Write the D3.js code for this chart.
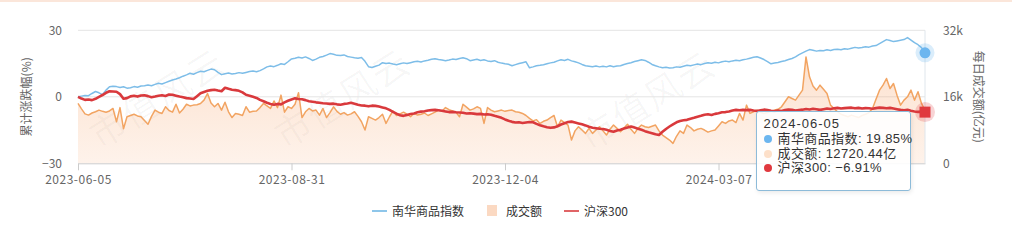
<!DOCTYPE html>
<html>
<head>
<meta charset="utf-8">
<script src="https://cdn.jsdelivr.net/npm/d3@7"></script>
<style>
  html, body { margin: 0; padding: 0; background: #fff; }
  #wrap { position: relative; width: 1012px; height: 243px; }
  svg { display: block; font-family: "Noto Sans CJK SC", "Noto Sans", sans-serif; }
  .tip { position: absolute; box-sizing: border-box; background: rgba(255,255,255,0.88);
    border: 1px solid #8dbbd9; border-radius: 3px; box-shadow: 1px 2px 4px rgba(0,0,0,0.08);
    font-family: "Liberation Sans", "Noto Sans CJK SC", sans-serif; color: #333; font-size: 13px;
    padding: 4px 0 0 7px; white-space: nowrap; }
  .tip .head { height: 16.5px; line-height: 16.5px; letter-spacing: 1px; }
  .tip .row { position: relative; height: 14.5px; line-height: 14.5px; padding-left: 14px; letter-spacing: 0.4px; }
  .tip .dot { position: absolute; left: 0; top: 3.25px; width: 8px; height: 8px; border-radius: 50%; }
</style>
</head>
<body>
<div id="wrap"><svg id="chart" width="1012" height="243"></svg></div>
<script>
"use strict";

// trading calendar: weekdays minus exchange holidays
const startDay = "2023-06-05";
const pointCount = 243;
const holidays = ["2023-06-22", "2023-06-23", "2023-09-29", "2023-10-02", "2023-10-03", "2023-10-04",
  "2023-10-05", "2023-10-06", "2024-01-01", "2024-02-09", "2024-02-12", "2024-02-13", "2024-02-14",
  "2024-02-15", "2024-02-16", "2024-04-04", "2024-04-05", "2024-05-01", "2024-05-02", "2024-05-03"];
const tickDates = ["2023-06-05", "2023-08-31", "2023-12-04", "2024-03-07"];

// 南华商品指数 cumulative change (%)
const nanhua = [
  0, 0.3, 0.6, 0.5, 1.5, 2.4, 1.8, 1.0, 3.0, 4.5,
  4.8, 4.6, 4.2, 4.5, 3.9, 4.1, 4.6, 4.3, 4.9, 5.0,
  5.3, 5.0, 5.6, 6.1, 5.8, 6.4, 7.0, 7.6, 8.0, 8.6,
  9.3, 9.9, 10.6, 10.2, 10.9, 11.5, 11.3, 11.9, 12.5, 12.2,
  11.0, 10.0, 10.4, 10.7, 10.3, 10.5, 10.9, 10.6, 11.0, 11.4,
  11.6, 11.3, 11.8, 12.6, 13.5, 13.9, 13.6, 14.2, 14.9, 14.6,
  15.8, 17.1, 17.4, 17.8, 17.5, 18.0, 17.3, 16.4, 17.0, 17.8,
  18.2, 18.8, 19.5, 19.2, 18.7, 18.6, 18.9, 18.2, 17.9, 17.6,
  17.4, 17.7, 16.0, 13.6, 13.2, 13.8, 14.3, 15.4, 15.0, 15.2,
  14.8, 14.5, 14.9, 15.3, 15.0, 15.4, 15.8, 16.0, 15.7, 16.2,
  16.5, 16.9, 17.2, 16.8, 16.6, 16.3, 16.6, 17.0, 16.8, 17.3,
  17.6, 17.2, 16.3, 16.6, 16.9, 16.4, 16.7, 16.2, 15.9, 16.3,
  15.6, 15.2, 14.9, 14.7, 14.0, 14.5, 15.0, 15.4, 15.8, 13.1,
  13.5, 14.0, 14.2, 14.5, 14.9, 15.3, 15.6, 16.2, 16.7, 16.4,
  16.9, 16.2, 15.8, 15.3, 14.6, 14.0, 13.8, 13.6, 13.9, 13.5,
  13.8, 13.5, 14.0, 13.6, 13.9, 14.0, 14.6, 15.0, 15.4, 15.9,
  16.3, 16.7, 16.4, 15.6, 14.6, 14.0, 13.5, 13.1, 13.3, 13.0,
  13.1, 13.5, 13.3, 13.8, 14.2, 14.0, 14.4, 14.8, 14.5, 15.0,
  15.4, 15.1, 15.6, 15.3, 15.8, 16.1, 15.8, 16.2, 16.5, 16.3,
  16.7, 17.0, 17.4, 17.8, 18.1, 17.5, 16.8, 15.9, 14.9, 15.2,
  15.5, 15.9, 16.3, 16.8, 17.3, 18.0, 19.0, 19.8, 20.6, 21.3,
  21.0, 20.6, 20.9, 20.8, 21.2, 20.9, 21.3, 21.5, 21.2, 21.7,
  21.5, 21.9, 22.3, 22.0, 22.2, 22.6, 22.4, 22.9, 23.1, 24.0,
  24.9, 25.8, 25.4, 24.9, 25.2, 25.5, 25.8, 26.7, 25.6, 24.4,
  23.5, 22.2, 19.85
];

// 沪深300 cumulative change (%)
const hs300 = [
  0, -0.8, -1.4, -1.2, -1.5, -0.9, 0, 0.8, 1.8, 2.5,
  2.4, 2.3, 1.2, -0.9, -0.6, 0.2, 0.5, 0.1, 0.6, 0.7,
  0.3, -0.2, 0.1, 0.5, 0.7, 0.4, 1.0, 0.9, 0.5, 0.1,
  -0.2, -0.6, -0.8, -1.0, 0.3, 1.6, 2.2, 2.7, 3.0, 3.2,
  2.8, 2.5, 4.1, 3.6, 3.2, 3.0, 2.7, 2.0, 0.9, 0.5,
  0, -0.5, -1.4, -2.0, -2.7, -3.2, -3.6, -3.2, -3.4, -2.5,
  -1.8, -1.2, -0.7, -1.0, -1.1, -1.5, -2.0, -2.2, -2.5, -2.7,
  -2.9, -3.0, -3.2, -3.1, -3.4, -3.6, -3.2, -3.0, -2.7, -3.1,
  -3.6, -3.9, -4.0, -4.3, -4.0, -4.1, -4.4, -4.8, -5.2, -5.9,
  -6.8, -7.6, -8.3, -8.6, -8.2, -7.8, -7.5, -7.0, -6.7, -6.5,
  -6.2, -6.0, -5.9, -6.1, -6.3, -6.6, -6.9, -6.8, -7.0, -7.1,
  -7.2, -7.5, -7.4, -7.6, -7.8, -7.7, -8.0, -7.9, -8.1, -8.6,
  -9.0, -9.5, -10.2, -10.8, -11.3, -11.6, -11.5, -11.8, -11.6, -11.4,
  -11.5, -12.2, -12.8, -13.3, -13.7, -14.0, -13.8, -13.3, -12.5, -11.9,
  -11.4, -11.2, -11.6, -12.0, -12.4, -12.9, -13.5, -14.0, -14.2, -14.4,
  -14.5, -14.9, -15.4, -15.8, -15.2, -14.9, -14.3, -13.8, -13.4, -13.9,
  -14.4, -14.9, -15.5, -16.0, -16.4, -16.9, -17.2, -15.8, -14.5, -13.4,
  -12.4, -11.5, -10.9, -10.6, -10.4, -9.9, -9.5, -9.0, -8.6, -8.1,
  -7.9, -8.2, -7.7, -7.4, -7.0, -6.9, -6.6, -6.2, -5.9, -6.1,
  -5.9, -6.0, -5.9, -6.2, -6.4, -6.1, -5.8, -6.0, -6.3, -6.5,
  -6.2, -6.4, -6.0, -5.7, -5.9, -6.2, -6.0, -5.8, -5.5, -5.7,
  -5.4, -5.6, -5.9, -5.6, -5.3, -5.5, -5.2, -5.0, -5.3, -5.1,
  -5.0, -4.9, -5.2, -5.0, -5.3, -5.1, -5.2, -5.4, -5.1, -4.9,
  -5.0, -5.2, -5.0, -5.3, -5.6, -5.9, -6.1, -5.9, -6.3, -6.6,
  -6.8, -6.7, -6.91
];

// 成交额 daily turnover (亿元)
const volume = [
  14400, 13100, 11900, 11600, 12100, 12400, 12800, 12500, 12300, 12600,
  13200, 10000, 13400, 8300, 11200, 11500, 11800, 11400, 11200, 10300,
  9400, 11300, 12800, 12300, 12000, 13600, 12700, 12300, 14200, 12100,
  13000, 14200, 13800, 14000, 14100, 14400, 15200, 16800, 14500, 13600,
  14400, 12800, 14700, 12400, 11000, 12000, 11800, 11500, 13600, 12300,
  12500, 12600, 13400, 14400, 13800, 13200, 15000, 13400, 16400, 12300,
  13600, 13200, 14200, 17000, 11000, 12400, 13200, 12600, 12800, 11600,
  13200, 11000, 12200, 13600, 12500, 11800, 12200, 11600, 11900, 12400,
  11300, 10000, 8000, 11200, 10800, 10400, 11000, 11800, 9600, 11200,
  12600, 11500, 11900, 12300, 11800, 11200, 12000, 11600, 11800, 12100,
  11500, 11900, 12300, 12800, 12500, 13400, 12900, 12600, 12300, 11200,
  14200, 13500, 12800, 13100, 13600, 13200, 9600, 13400, 12800, 12400,
  12600, 12800, 12500, 12700, 12800, 12400, 12300, 12000, 11500, 10800,
  10200, 10500, 9600, 10100, 10400, 11000, 11500, 8800, 10400, 9800,
  9200, 5600, 7800, 8800, 8000, 7200, 8400, 7200, 8000, 8800,
  7800, 6800, 8200, 9200, 8400, 7600, 8500, 9400, 8200, 7200,
  8400, 9200, 8800, 8600, 8900, 9200, 7800, 6800, 6200, 5600,
  4800, 6500, 7800, 7200, 9200, 8600, 7800, 8200, 8400, 8000,
  7500, 7800, 8000, 9000, 10000, 9600, 10200, 10400, 9800, 12000,
  10400, 14000, 12000, 12400, 12800, 12300, 12000, 12200, 12500, 12800,
  13000, 13600, 14800, 16000, 15600, 15200, 16400, 17600, 25600, 20800,
  18600, 17600, 18800, 17800, 16800, 14000, 13200, 12400, 11800, 11500,
  11200, 11600, 11300, 11000, 11500, 11800, 12200, 13200, 15400, 17600,
  18800, 20400, 18000, 19200, 16400, 14000, 15200, 16000, 17600, 15200,
  17200, 14400, 12720.44
];

const leftTicks = [-30, 0, 30];
const rightTicks = [0, 16000, 32000];
const seriesNames = ["南华商品指数", "成交额", "沪深300"];
const watermark = "市值风云";

// build trading dates
function tradingDays(start, n) {
  const fmt = d3.utcFormat("%Y-%m-%d");
  const out = [];
  let d = new Date(start + "T00:00:00Z");
  while (out.length < n) {
    const s = fmt(d), wd = d.getUTCDay();
    if (wd !== 0 && wd !== 6 && holidays.indexOf(s) < 0) out.push(s);
    d = d3.utcDay.offset(d, 1);
  }
  return out;
}
const dates = tradingDays(startDay, pointCount);

const svg = d3.select("#chart");
const W = 1012, H = 243;
const mLeft = 78, mRight = 925, mTop = 30.3, mBottom = 163.3;

const blue = "#7dbde8", red = "#d9393c", orange = "#f2a462";

// top border strip
svg.append("rect").attr("x", 0).attr("y", 0).attr("width", W).attr("height", 2).attr("fill", "#fbe6da");

// faint watermark, kept clear of the labels
const wm = svg.append("g").attr("fill", "#000").attr("fill-opacity", 0.035)
  .attr("font-size", 36).attr("letter-spacing", 2);
[[285, 150], [590, 152], [100, 150]].forEach(function(p) {
  wm.append("text").attr("transform", "translate(" + p[0] + "," + p[1] + ") rotate(-32)").text(watermark);
});

const x = d3.scalePoint().domain(dates).range([mLeft, mRight]);
const yL = d3.scaleLinear().domain([-30, 30]).range([mBottom, mTop]);
const yR = d3.scaleLinear().domain([0, 32000]).range([mBottom, mTop]);

// gridlines
svg.append("g").selectAll("line").data(leftTicks.filter(function(t) { return t > -30; })).enter().append("line")
  .attr("x1", mLeft).attr("x2", mRight)
  .attr("y1", function(d) { return yL(d); }).attr("y2", function(d) { return yL(d); })
  .attr("stroke", "#e4e4e4").attr("stroke-width", 1);

// gradient for turnover area
const defs = svg.append("defs");
const grad = defs.append("linearGradient").attr("id", "volFill")
  .attr("gradientUnits", "userSpaceOnUse").attr("x1", 0).attr("y1", mTop).attr("x2", 0).attr("y2", mBottom);
grad.append("stop").attr("offset", "0%").attr("stop-color", "#f7a66e").attr("stop-opacity", 0.38);
grad.append("stop").attr("offset", "100%").attr("stop-color", "#f7a66e").attr("stop-opacity", 0.14);

const volArea = d3.area().x(function(d, i) { return x(dates[i]); }).y0(mBottom).y1(function(d) { return yR(d); });
const volLine = d3.line().x(function(d, i) { return x(dates[i]); }).y(function(d) { return yR(d); });
const pctLine = d3.line().x(function(d, i) { return x(dates[i]); }).y(function(d) { return yL(d); });

svg.append("path").datum(volume).attr("d", volArea).attr("fill", "url(#volFill)");
svg.append("path").datum(volume).attr("d", volLine).attr("fill", "none").attr("stroke", orange)
  .attr("stroke-width", 1.5).attr("stroke-linejoin", "round");
svg.append("path").datum(nanhua).attr("d", pctLine).attr("fill", "none").attr("stroke", blue)
  .attr("stroke-width", 1.5).attr("stroke-linejoin", "round");
svg.append("path").datum(hs300).attr("d", pctLine).attr("fill", "none").attr("stroke", red)
  .attr("stroke-width", 2.6).attr("stroke-linejoin", "round");

// x axis
const xAxis = svg.append("g").attr("transform", "translate(0," + mBottom + ")")
  .call(d3.axisBottom(x).tickValues(tickDates).tickSize(7).tickSizeOuter(0).tickPadding(5));
xAxis.select(".domain").attr("stroke", "#ccc");
xAxis.selectAll(".tick line").attr("stroke", "#ccc");
xAxis.selectAll("text").attr("fill", "#666").attr("font-size", 12).attr("letter-spacing", 0.5)
  .attr("font-family", "\"Noto Sans CJK SC\", sans-serif");

// left axis
const yAxisL = svg.append("g").attr("transform", "translate(" + mLeft + ",0)")
  .call(d3.axisLeft(yL).tickValues(leftTicks).tickSize(0).tickPadding(16));
yAxisL.select(".domain").remove();
yAxisL.selectAll("text").attr("fill", "#666").attr("font-size", 12)
  .attr("font-family", "\"Noto Sans CJK SC\", sans-serif");

// right axis
const yAxisR = svg.append("g").attr("transform", "translate(" + mRight + ",0)")
  .call(d3.axisRight(yR).tickValues(rightTicks).tickSize(0).tickPadding(18).tickFormat(d3.format("~s")));
yAxisR.select(".domain").remove();
yAxisR.selectAll("text").attr("fill", "#666").attr("font-size", 12)
  .attr("font-family", "\"Noto Sans CJK SC\", sans-serif");

// axis titles
svg.append("text").attr("transform", "translate(31," + ((mTop + mBottom) / 2) + ") rotate(-90)")
  .attr("text-anchor", "middle").attr("fill", "#666").attr("font-size", 12).text("累计涨跌幅(%)");
svg.append("text").attr("transform", "translate(974," + ((mTop + mBottom) / 2) + ") rotate(90)")
  .attr("text-anchor", "middle").attr("fill", "#666").attr("font-size", 12).text("每日成交额(亿元)");

// axis pointer at last point
const last = pointCount - 1;
const px = x(dates[last]);
svg.append("line").attr("x1", px).attr("x2", px).attr("y1", mTop).attr("y2", mBottom)
  .attr("stroke", "#dfe6ec").attr("stroke-width", 1);

svg.append("circle").attr("cx", px).attr("cy", yL(nanhua[last])).attr("r", 9.5)
  .attr("fill", "#6cb6ef").attr("fill-opacity", 0.25);
svg.append("circle").attr("cx", px).attr("cy", yL(nanhua[last])).attr("r", 5.5)
  .attr("fill", "#6cb6ef");
svg.append("circle").attr("cx", px).attr("cy", yL(hs300[last])).attr("r", 10)
  .attr("fill", "#e0393e").attr("fill-opacity", 0.22);
svg.append("rect").attr("x", px - 5.5).attr("y", yL(hs300[last]) - 5.5).attr("width", 11).attr("height", 11)
  .attr("fill", "#e0393e");

// legend
const legend = svg.append("g").attr("font-size", 12).attr("fill", "#333");
legend.append("line").attr("x1", 372).attr("x2", 387).attr("y1", 211).attr("y2", 211)
  .attr("stroke", "#8ec6ea").attr("stroke-width", 2);
legend.append("text").attr("x", 392).attr("y", 215.5).text(seriesNames[0]);
legend.append("rect").attr("x", 487).attr("y", 205).attr("width", 10).attr("height", 11).attr("fill", "#fbd9c2");
legend.append("text").attr("x", 506).attr("y", 215.5).text(seriesNames[1]);
legend.append("line").attr("x1", 564).attr("x2", 579).attr("y1", 211).attr("y2", 211)
  .attr("stroke", "#e06466").attr("stroke-width", 2);
legend.append("text").attr("x", 584).attr("y", 215.5).text(seriesNames[2]);

// tooltip (html box like the charting lib's)
const tip = d3.select("#wrap").append("div").attr("class", "tip")
  .style("left", "755.5px").style("top", "110.5px").style("width", "155px").style("height", "80px");
tip.append("div").attr("class", "head").text(dates[last]);
const tipRows = [
  {color: "#6cb6ef", label: seriesNames[0] + ": " + d3.format(".2f")(nanhua[last]) + "%"},
  {color: "#fde0c9", label: seriesNames[1] + ": " + d3.format(".2f")(volume[last]) + "亿"},
  {color: "#e0393e", label: seriesNames[2] + ": " + d3.format(".2f")(hs300[last]) + "%"}
];
tipRows.forEach(function(r) {
  const row = tip.append("div").attr("class", "row");
  row.append("span").attr("class", "dot").style("background", r.color);
  row.append("span").text(r.label);
});
</script>
</body>
</html>
